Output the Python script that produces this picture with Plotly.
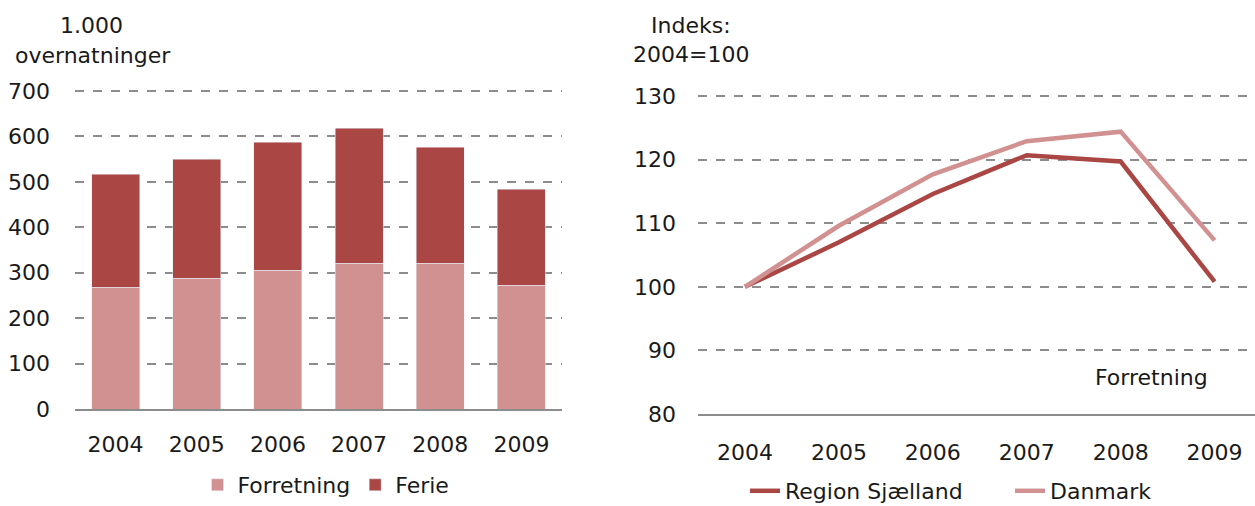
import plotly.graph_objects as go

years = ["2004", "2005", "2006", "2007", "2008", "2009"]
forretning = [268, 288, 305, 321, 321, 272]
ferie = [249, 262, 282, 297, 255, 212]

region_sjaelland = [100, 107.0, 114.6, 120.7, 119.7, 100.8]
danmark = [100, 109.6, 117.7, 122.9, 124.4, 107.3]

C_DARK = "#AA4644"
C_LIGHT = "#D29191"
GRID = "#8C8C8C"
FONT = "DejaVu Sans"
W, H = 1255, 506

fig = go.Figure()
fig.add_trace(go.Bar(x=years, y=forretning, name="Forretning", marker_color=C_LIGHT,
                     width=0.59, xaxis="x", yaxis="y", legend="legend"))
fig.add_trace(go.Bar(x=years, y=ferie, name="Ferie", marker_color=C_DARK,
                     width=0.59, xaxis="x", yaxis="y", legend="legend"))
fig.add_trace(go.Scatter(x=years, y=region_sjaelland, name="Region Sjælland", mode="lines",
                         line=dict(color=C_DARK, width=4.5), xaxis="x2", yaxis="y2", legend="legend2"))
fig.add_trace(go.Scatter(x=years, y=danmark, name="Danmark", mode="lines",
                         line=dict(color=C_LIGHT, width=4.5), xaxis="x2", yaxis="y2", legend="legend2"))

def py(p):
    return 1 - p / H

axis_font = dict(family=FONT, size=22, color="#1a1a1a")

fig.update_layout(
    width=W, height=H, margin=dict(l=0, r=0, t=0, b=0, autoexpand=False),
    paper_bgcolor="white", plot_bgcolor="white",
    barmode="stack", font=axis_font,
    xaxis=dict(domain=[75 / W, 562 / W], range=[-0.5, 5.5], type="category",
               showline=True, linecolor=GRID, linewidth=2, showgrid=False,
               ticks="", tickfont=axis_font, ticklabelstandoff=15, automargin=False),
    yaxis=dict(domain=[py(409), py(89.6)], range=[0, 703], tickvals=[0, 100, 200, 300, 400, 500, 600, 700],
               showgrid=True, gridcolor=GRID, griddash="dash", gridwidth=1.5,
               zeroline=False, showline=False, ticks="", tickfont=axis_font,
               ticklabelstandoff=24, automargin=False),
    xaxis2=dict(domain=[698 / W, 1.0], range=[-0.5, 5.43], type="category",
                anchor="y2", showline=True, linecolor=GRID, linewidth=2, showgrid=False,
                ticks="", tickfont=axis_font, ticklabelstandoff=18, automargin=False),
    yaxis2=dict(domain=[py(414), py(93.5)], range=[80, 130.4], tickvals=[80, 90, 100, 110, 120, 130],
                anchor="x2",
                showgrid=True, gridcolor=GRID, griddash="dash", gridwidth=1.5,
                zeroline=False, showline=False, ticks="", tickfont=axis_font,
                ticklabelstandoff=21, automargin=False),
    legend=dict(orientation="h", x=326 / W, xanchor="center", y=py(485), yanchor="middle",
                font=axis_font, traceorder="normal", bgcolor="rgba(0,0,0,0)"),
    legend2=dict(orientation="h", x=745 / W, xanchor="left", y=py(491), yanchor="middle",
                 font=axis_font, traceorder="normal", bgcolor="rgba(0,0,0,0)",
                 entrywidth=220, entrywidthmode="pixels"),
    showlegend=True,
)

ann = [
    dict(text="1.000", x=92 / W, y=py(25)),
    dict(text="overnatninger", x=93 / W, y=py(55)),
    dict(text="Indeks:", x=691 / W, y=py(25)),
    dict(text="2004=100", x=691 / W, y=py(54)),
    dict(text="Forretning", x=1151 / W, y=py(377)),
]
for a in ann:
    fig.add_annotation(text=a["text"], x=a["x"], y=a["y"], xref="paper", yref="paper",
                       xanchor="center", yanchor="middle", showarrow=False, font=axis_font)

fig.write_html("out.html", config={"displayModeBar": False},
               post_script="document.body.style.margin='0px';")
